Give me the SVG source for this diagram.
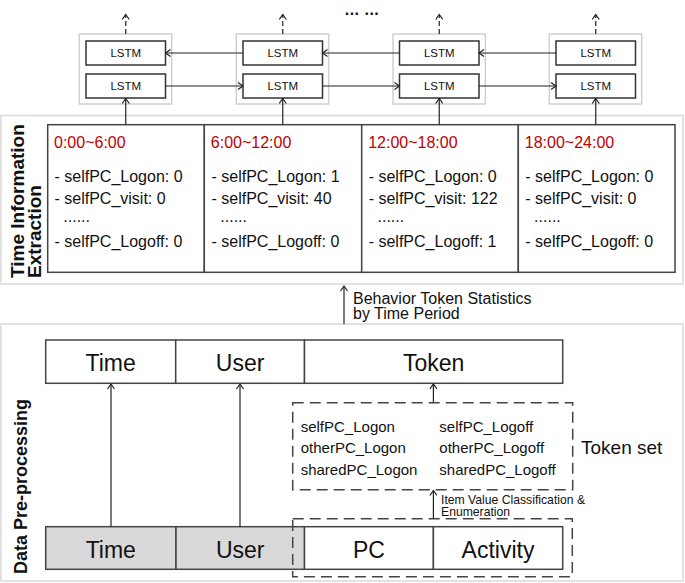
<svg xmlns="http://www.w3.org/2000/svg" width="685" height="583" viewBox="0 0 685 583">
<defs>
<marker id="ah" markerWidth="8" markerHeight="8" refX="6" refY="4" orient="auto" markerUnits="userSpaceOnUse">
<path d="M1,0.5 L6,4 L1,7.5" fill="none" stroke="#222" stroke-width="1.2"/>
</marker>
</defs>
<style>
text{font-family:"Liberation Sans",Arial,sans-serif;fill:#111}
.panel{fill:none;stroke:#d9d9d9;stroke-width:1.5}
.grp{fill:none;stroke:#d0d0d0;stroke-width:1.5}
.lstm{fill:#fff;stroke:#333;stroke-width:1.5}
.lt{font-size:11.5px;text-anchor:middle}
.cell{fill:#fff;stroke:#444;stroke-width:1.5}
.gcell{fill:#d9d9d9;stroke:#444;stroke-width:1.5}
.conn{fill:none;stroke:#222;stroke-width:1.2}
.dashup{fill:none;stroke:#222;stroke-width:1.2;stroke-dasharray:5,3}
.dbox{fill:none;stroke:#444;stroke-width:1.5;stroke-dasharray:11,6}
.hd{font-size:16px;fill:#c00000}
.li{font-size:16px}
.big{font-size:23px;text-anchor:middle}
.tok{font-size:15px}
.vl{font-size:19px;font-weight:bold}
</style>

<text x="362" y="15" style="font-size:16px;font-weight:bold;text-anchor:middle;letter-spacing:0.5px">... ...</text>

<!-- panels -->
<rect class="panel" x="1" y="115.5" width="682" height="168.5"/>
<rect class="panel" x="1" y="324" width="682" height="257"/>

<g id="lstm-col1">
<rect class="grp" x="79.3" y="34" width="92.4" height="70"/>
<rect class="lstm" x="86" y="41" width="79.5" height="24"/>
<text class="lt" x="125.75" y="57.3">LSTM</text>
<rect class="lstm" x="86" y="74" width="79.5" height="24"/>
<text class="lt" x="125.75" y="90.3">LSTM</text>
</g>
<g id="lstm-col2">
<rect class="grp" x="236.3" y="34" width="92.4" height="70"/>
<rect class="lstm" x="243" y="41" width="79.5" height="24"/>
<text class="lt" x="282.75" y="57.3">LSTM</text>
<rect class="lstm" x="243" y="74" width="79.5" height="24"/>
<text class="lt" x="282.75" y="90.3">LSTM</text>
</g>
<g id="lstm-col3">
<rect class="grp" x="393" y="34" width="92.4" height="70"/>
<rect class="lstm" x="399.5" y="41" width="79.5" height="24"/>
<text class="lt" x="439.25" y="57.3">LSTM</text>
<rect class="lstm" x="399.5" y="74" width="79.5" height="24"/>
<text class="lt" x="439.25" y="90.3">LSTM</text>
</g>
<g id="lstm-col4">
<rect class="grp" x="549.3" y="34" width="92.4" height="70"/>
<rect class="lstm" x="556" y="41" width="79.5" height="24"/>
<text class="lt" x="595.75" y="57.3">LSTM</text>
<rect class="lstm" x="556" y="74" width="79.5" height="24"/>
<text class="lt" x="595.75" y="90.3">LSTM</text>
</g>

<g id="time-info-label">
<text class="vl" transform="translate(24.3,278) rotate(-90)">Time Information</text>
<text class="vl" transform="translate(40.7,278) rotate(-90)">Extraction</text>
</g>

<g id="period-1">
<rect class="cell" x="47.7" y="124.7" width="156.6" height="147.6"/>
<text class="hd" x="54" y="147.5">0:00~6:00</text>
<text class="li" x="54.5" y="182.3">- selfPC_Logon: 0</text>
<text class="li" x="54.5" y="204">- selfPC_visit: 0</text>
<text class="li" x="63.3" y="221.7">......</text>
<text class="li" x="54.5" y="247.3">- selfPC_Logoff: 0</text>
</g>
<g id="period-2">
<rect class="cell" x="204.3" y="124.7" width="157.4" height="147.6"/>
<text class="hd" x="210.8" y="147.5">6:00~12:00</text>
<text class="li" x="211.5" y="182.3">- selfPC_Logon: 1</text>
<text class="li" x="211.5" y="204">- selfPC_visit: 40</text>
<text class="li" x="220.3" y="221.7">......</text>
<text class="li" x="211.5" y="247.3">- selfPC_Logoff: 0</text>
</g>
<g id="period-3">
<rect class="cell" x="361.7" y="124.7" width="156.6" height="147.6"/>
<text class="hd" x="368.2" y="147.5">12:00~18:00</text>
<text class="li" x="368.7" y="182.3">- selfPC_Logon: 0</text>
<text class="li" x="368.7" y="204">- selfPC_visit: 122</text>
<text class="li" x="377.5" y="221.7">......</text>
<text class="li" x="368.7" y="247.3">- selfPC_Logoff: 1</text>
</g>
<g id="period-4">
<rect class="cell" x="518.3" y="124.7" width="156.7" height="147.6"/>
<text class="hd" x="524.8" y="147.5">18:00~24:00</text>
<text class="li" x="525.3" y="182.3">- selfPC_Logon: 0</text>
<text class="li" x="525.3" y="204">- selfPC_visit: 0</text>
<text class="li" x="534.1" y="221.7">......</text>
<text class="li" x="525.3" y="247.3">- selfPC_Logoff: 0</text>
</g>

<g id="behavior-label">
<text style="font-size:16px" x="353" y="303.5">Behavior Token Statistics</text>
<text style="font-size:16px" x="353" y="319">by Time Period</text>
</g>

<g id="data-pre-label">
<text class="vl" style="font-size:18px" transform="translate(26.5,574) rotate(-90)">Data Pre-processing</text>
</g>

<g id="record-top">
<rect class="cell" x="45.7" y="340" width="130" height="43.3"/>
<text class="big" x="110.7" y="371">Time</text>
<rect class="cell" x="175.7" y="340" width="128.8" height="43.3"/>
<text class="big" x="240.1" y="371">User</text>
<rect class="cell" x="304.5" y="340" width="258.2" height="43.3"/>
<text class="big" x="433.6" y="371">Token</text>
</g>

<g id="token-set">
<rect class="dbox" x="292.7" y="402.7" width="280" height="87"/>
<text class="tok" x="300.7" y="431.7">selfPC_Logon</text>
<text class="tok" x="300.7" y="453.3">otherPC_Logon</text>
<text class="tok" x="300.7" y="475">sharedPC_Logon</text>
<text class="tok" x="439.3" y="431.7">selfPC_Logoff</text>
<text class="tok" x="439.3" y="453.3">otherPC_Logoff</text>
<text class="tok" x="439.3" y="475">sharedPC_Logoff</text>
<text style="font-size:19px" x="581" y="454">Token set</text>
</g>

<g id="item-value-label">
<text style="font-size:12.2px" x="441" y="503.5">Item Value Classification &amp;</text>
<text style="font-size:12.2px" x="441" y="516">Enumeration</text>
</g>

<g id="record-bottom">
<rect class="gcell" x="45.7" y="526.7" width="130.3" height="42.6"/>
<text class="big" x="110.8" y="557.5">Time</text>
<rect class="gcell" x="176" y="526.7" width="128.5" height="42.6"/>
<text class="big" x="240.2" y="557.5">User</text>
<rect class="cell" x="304.5" y="526.7" width="128.9" height="42.6"/>
<text class="big" x="369" y="557.5">PC</text>
<rect class="cell" x="433.4" y="526.7" width="129.3" height="42.6"/>
<text class="big" x="498" y="557.5">Activity</text>
<rect class="dbox" x="292.7" y="518.7" width="279.6" height="58"/>
</g>

<g id="connectors">
<line class="dashup" x1="125.75" y1="34" x2="125.75" y2="14.5" marker-end="url(#ah)"/>
<line class="dashup" x1="282.75" y1="34" x2="282.75" y2="14.5" marker-end="url(#ah)"/>
<line class="dashup" x1="439.25" y1="34" x2="439.25" y2="14.5" marker-end="url(#ah)"/>
<line class="dashup" x1="595.75" y1="34" x2="595.75" y2="14.5" marker-end="url(#ah)"/>
<line class="conn" x1="243" y1="53" x2="165.5" y2="53" marker-end="url(#ah)"/>
<line class="conn" x1="399.5" y1="53" x2="322.5" y2="53" marker-end="url(#ah)"/>
<line class="conn" x1="556" y1="53" x2="479" y2="53" marker-end="url(#ah)"/>
<line class="conn" x1="165.5" y1="86" x2="243" y2="86" marker-end="url(#ah)"/>
<line class="conn" x1="322.5" y1="86" x2="399.5" y2="86" marker-end="url(#ah)"/>
<line class="conn" x1="479" y1="86" x2="556" y2="86" marker-end="url(#ah)"/>
<line class="conn" x1="125.75" y1="124.7" x2="125.75" y2="98.5" marker-end="url(#ah)"/>
<line class="conn" x1="282.75" y1="124.7" x2="282.75" y2="98.5" marker-end="url(#ah)"/>
<line class="conn" x1="439.25" y1="124.7" x2="439.25" y2="98.5" marker-end="url(#ah)"/>
<line class="conn" x1="595.75" y1="124.7" x2="595.75" y2="98.5" marker-end="url(#ah)"/>
<line class="conn" x1="344" y1="324" x2="344" y2="286" marker-end="url(#ah)"/>
<line class="conn" x1="111" y1="526.7" x2="111" y2="384" marker-end="url(#ah)"/>
<line class="conn" x1="240" y1="526.7" x2="240" y2="384" marker-end="url(#ah)"/>
<line class="conn" x1="433.4" y1="402.7" x2="433.4" y2="384" marker-end="url(#ah)"/>
<line class="conn" x1="433.4" y1="518.7" x2="433.4" y2="490.5" marker-end="url(#ah)"/>
</g>
</svg>
